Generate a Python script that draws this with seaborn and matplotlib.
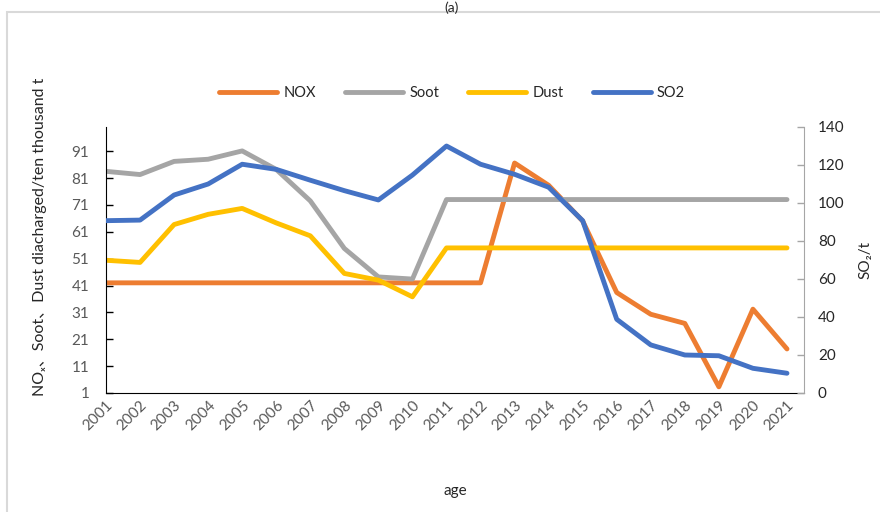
import pandas as pd
import matplotlib
matplotlib.use('Agg')
import matplotlib.pyplot as plt
from matplotlib.patches import Rectangle
import seaborn as sns

# Dados (NOX, Soot, Dust no eixo esquerdo; SO2 no eixo direito)
anos = [2001, 2002, 2003, 2004, 2005, 2006, 2007, 2008, 2009, 2010, 2011,
        2012, 2013, 2014, 2015, 2016, 2017, 2018, 2019, 2020, 2021]
nox = [42, 42, 42, 42, 42, 42, 42, 42, 42, 42, 42,
       42, 86.6, 78.3, 65, 38.4, 30.3, 26.9, 3.3, 32.2, 17.4]
soot = [83.5, 82.3, 87.2, 88, 91.1, 84.2, 72.5, 54.8, 44.2, 43.4, 73,
        73, 73, 73, 73, 73, 73, 73, 73, 73, 73]
dust = [50.4, 49.6, 63.7, 67.5, 69.7, 64.3, 59.5, 45.5, 43, 36.8, 55,
        55, 55, 55, 55, 55, 55, 55, 55, 55, 55]
so2 = [90.7, 91, 104.2, 110, 120.4, 117.7, 112, 106.5, 101.6, 114.7, 130,
       120.4, 115.1, 108.3, 90.7, 38.8, 25.3, 20, 19.6, 13, 10.4]

df = pd.DataFrame({'ano': anos, 'NOX': nox, 'Soot': soot, 'Dust': dust, 'SO2': so2})

sns.set_style('white')
plt.rcParams['font.family'] = ['Lato', 'Noto Sans CJK SC', 'DejaVu Sans']

fig = plt.figure(figsize=(8.8, 5.12), dpi=100)
ax = fig.add_axes([106 / 880, 1 - 393 / 512, 698 / 880, 266 / 512])
ax2 = ax.twinx()

sns.lineplot(ax=ax, x='ano', y='NOX', data=df, color='#ED7D31', lw=3.5, label='NOX', legend=False)
sns.lineplot(ax=ax, x='ano', y='Soot', data=df, color='#A5A5A5', lw=3.5, label='Soot', legend=False)
sns.lineplot(ax=ax, x='ano', y='Dust', data=df, color='#FFC000', lw=3.5, label='Dust', legend=False)
sns.lineplot(ax=ax2, x='ano', y='SO2', data=df, color='#4472C4', lw=3.5, label='SO2', legend=False)

ax.set_xlim(2001, 2021.5)
ax.set_ylim(1, 100)
ax2.set_ylim(0, 140)
ax.set_xticks(anos)
ax.set_xticklabels([str(a) for a in anos], rotation=45, ha='right', rotation_mode='anchor')
ax.set_yticks([1, 11, 21, 31, 41, 51, 61, 71, 81, 91])
ax2.set_yticks([0, 20, 40, 60, 80, 100, 120, 140])

ax.set_xlabel('age', fontsize=11, labelpad=36)
ax.set_ylabel('')
ax2.set_ylabel('SO₂/t', fontsize=11, labelpad=10)

for s in ['top']:
    ax.spines[s].set_visible(False)
    ax2.spines[s].set_visible(False)
ax.spines['left'].set_color('black')
ax.spines['bottom'].set_color('black')
ax2.spines['right'].set_color('#a6a6a6')
ax.spines['right'].set_visible(False)
ax2.spines['left'].set_visible(False)
ax2.spines['bottom'].set_visible(False)

ax.tick_params(axis='both', direction='in', length=5, width=1, colors='black', labelsize=11)
ax.tick_params(axis='y', labelcolor='#595959', pad=12)
ax.tick_params(axis='x', labelcolor='#595959', pad=4)
ax2.tick_params(axis='y', direction='in', length=5, width=1, colors='#a6a6a6',
                labelcolor='#262626', labelsize=11, pad=10)

# Legenda acima do gráfico
h1, l1 = ax.get_legend_handles_labels()
h2, l2 = ax2.get_legend_handles_labels()
fig.legend(h1 + h2, l1 + l2, loc='center', bbox_to_anchor=(452 / 880, 1 - 93 / 512), ncol=4,
           frameon=False, handlelength=4.0, columnspacing=2.0, handletextpad=0.4, fontsize=10.5)

fig.text(40 / 880, 1 - 237 / 512, 'NOₓ、Soot、Dust diacharged/ten thousand t', rotation=90,
         ha='center', va='center', fontsize=11.5)
fig.text(452 / 880, 1 - 1 / 512, '(a)', ha='center', va='top', fontsize=10)
fig.patches.append(Rectangle((7 / 880, -0.1), 1.2, 1 - 12 / 512 + 0.1, transform=fig.transFigure,
                             fill=False, edgecolor='#d9d9d9', lw=1.5))

fig.savefig('out.png', dpi=100)
